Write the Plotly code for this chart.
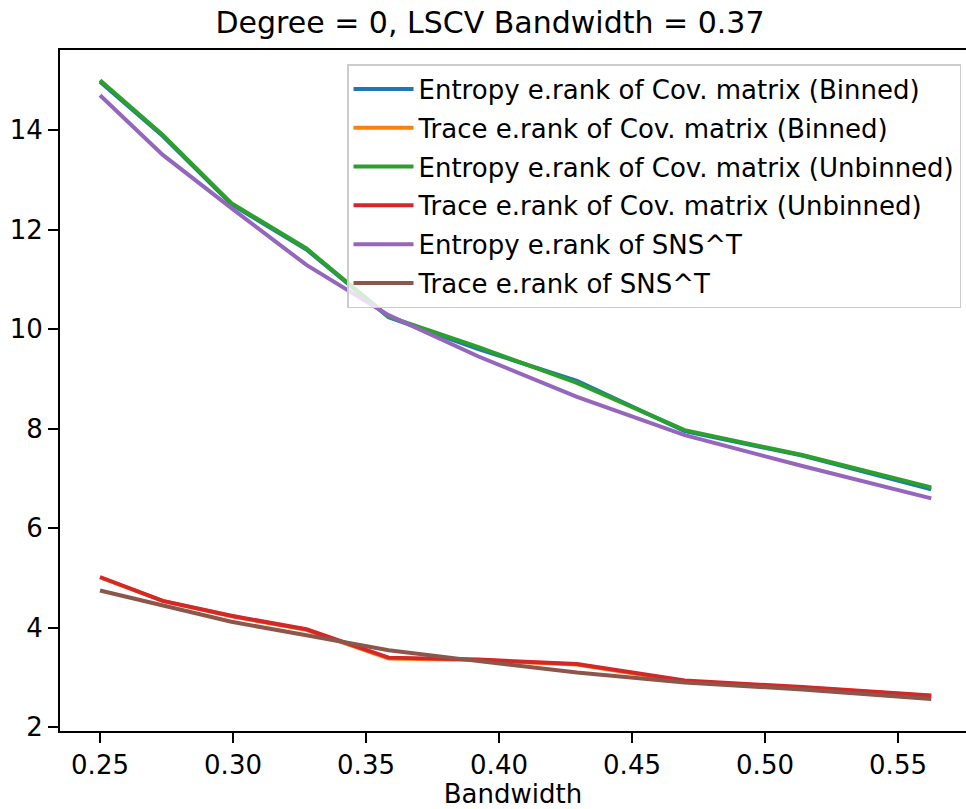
import plotly.graph_objects as go

bandwidth = [0.25, 0.2736, 0.2994, 0.3276, 0.3585, 0.3923, 0.4293, 0.4698, 0.5140, 0.5625]

entropy_cov_binned = [14.97, 13.88, 12.51, 11.60, 10.24, 9.60, 8.96, 7.95, 7.46, 6.78]
trace_cov_binned = [5.01, 4.54, 4.23, 3.96, 3.38, 3.35, 3.26, 2.92, 2.80, 2.63]
entropy_cov_unbinned = [15.00, 13.90, 12.53, 11.62, 10.25, 9.64, 8.92, 7.97, 7.47, 6.82]
trace_cov_unbinned = [5.02, 4.54, 4.24, 3.97, 3.40, 3.36, 3.27, 2.94, 2.81, 2.64]
entropy_sns = [14.70, 13.50, 12.43, 11.29, 10.28, 9.45, 8.64, 7.87, 7.25, 6.60]
trace_sns = [4.75, 4.45, 4.12, 3.85, 3.55, 3.33, 3.10, 2.90, 2.76, 2.57]

labels = [
    "Entropy e.rank of Cov. matrix (Binned)",
    "Trace e.rank of Cov. matrix (Binned)",
    "Entropy e.rank of Cov. matrix (Unbinned)",
    "Trace e.rank of Cov. matrix (Unbinned)",
    "Entropy e.rank of SNS^T",
    "Trace e.rank of SNS^T",
]
colors = ["#1f77b4", "#ff7f0e", "#2ca02c", "#d62728", "#9467bd", "#8c564b"]
series = [entropy_cov_binned, trace_cov_binned, entropy_cov_unbinned,
          trace_cov_unbinned, entropy_sns, trace_sns]

x_ticks = [0.25, 0.30, 0.35, 0.40, 0.45, 0.50, 0.55]
y_ticks = [2, 4, 6, 8, 10, 12, 14]

fig = go.Figure()
for i, (lab, col, ys) in enumerate(zip(labels, colors, series)):
    fig.add_trace(go.Scatter(x=bandwidth, y=ys, mode="lines", name=lab,
                             legendgroup=f"g{i}",
                             line=dict(color=col, width=4)))

fig.update_layout(
    width=966, height=809,
    margin=dict(l=60, r=0, t=50, b=78),
    plot_bgcolor="white", paper_bgcolor="white",
    font=dict(family="DejaVu Sans", color="black", size=26),
    title=dict(text="Degree = 0, LSCV Bandwidth = 0.37", font=dict(size=30),
               x=0.4746, xref="paper", xanchor="center",
               y=1 - 22 / 809, yref="container", yanchor="middle"),
    showlegend=True,
    legend=dict(x=0.9945, xanchor="right", y=0.9794, yanchor="top",
                bordercolor="#cccccc", borderwidth=1.5,
                bgcolor="rgba(255,255,255,0.8)", font=dict(size=26),
                itemwidth=60, tracegroupgap=2, traceorder="grouped"),
)
fig.update_xaxes(range=[0.23496, 0.57556], tickvals=x_ticks,
                 ticktext=[f"{v:.2f}" for v in x_ticks],
                 ticks="outside", ticklen=10, tickwidth=2, tickcolor="black",
                 showline=True, linewidth=2, linecolor="black", mirror=True,
                 showgrid=False, zeroline=False, tickfont=dict(size=26),
                 title=dict(text="Bandwidth", font=dict(size=26), standoff=6))
fig.update_yaxes(range=[1.926, 15.608], tickvals=y_ticks,
                 ticktext=[str(v) for v in y_ticks],
                 ticks="outside", ticklen=10, tickwidth=2, tickcolor="black",
                 showline=True, linewidth=2, linecolor="black", mirror=False,
                 showgrid=False, zeroline=False, tickfont=dict(size=26))

fig.write_html("out.html")
